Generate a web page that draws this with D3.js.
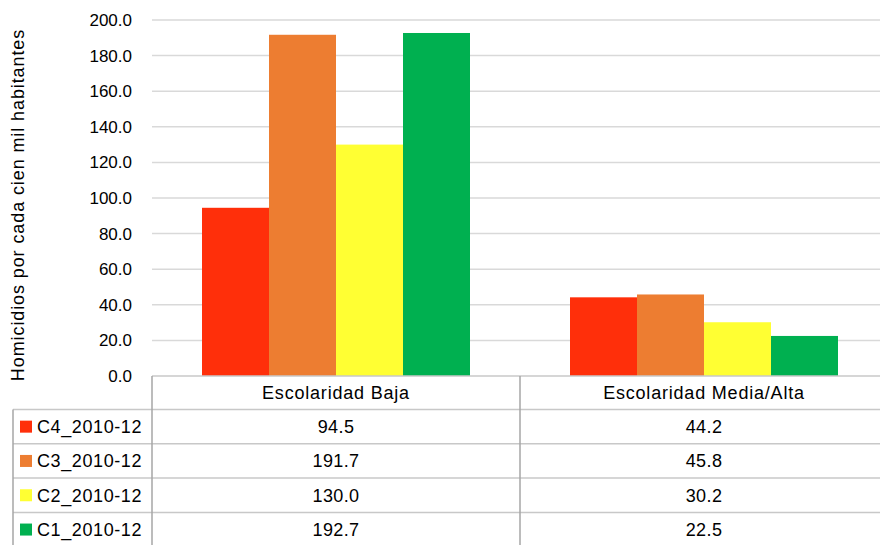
<!DOCTYPE html>
<html>
<head>
<meta charset="utf-8">
<title>Homicidios por escolaridad</title>
<script src="https://cdn.jsdelivr.net/npm/d3@7"></script>
<style>
  html, body { margin: 0; padding: 0; background: #fff; }
  svg { display: block; font-family: "Liberation Sans", Arial, sans-serif; }
</style>
</head>
<body>
<svg width="880" height="545"></svg>
<script>
// datos
var categories = ["Escolaridad Baja", "Escolaridad Media/Alta"];
var seriesNames = ["C4_2010-12", "C3_2010-12", "C2_2010-12", "C1_2010-12"];
var seriesColors = ["#ff2f0a", "#ed7d31", "#ffff33", "#00b050"];
var c4 = [94.5, 44.2];
var c3 = [191.7, 45.8];
var c2 = [130.0, 30.2];
var c1 = [192.7, 22.5];
var yTicks = [0, 20, 40, 60, 80, 100, 120, 140, 160, 180, 200];
var yTitle = "Homicidios por cada cien mil habitantes";

var values = [c4, c3, c2, c1];

var svg = d3.select("svg");
var plotLeft = 152, plotRight = 888, plotTop = 20, base = 376;
var rowH = 34.3, headH = 33.5, legLeft = 13;

var x0 = d3.scaleBand().domain(categories).range([plotLeft, plotRight]).paddingInner(0).paddingOuter(0);
var x1 = d3.scaleBand().domain(seriesNames).range([50, x0.bandwidth() - 50]).padding(0);
var y = d3.scaleLinear().domain([0, 200]).range([base, plotTop]);

// grid lines
svg.append("g").selectAll("line")
  .data(yTicks.filter(function (d) { return d > 0; }))
  .enter().append("line")
  .attr("x1", plotLeft).attr("x2", plotRight)
  .attr("y1", function (d) { return y(d); })
  .attr("y2", function (d) { return y(d); })
  .attr("stroke", "#d9d9d9").attr("stroke-width", 1.5);

// tick labels
svg.append("g").selectAll("text")
  .data(yTicks)
  .enter().append("text")
  .attr("x", 132)
  .attr("y", function (d) { return y(d); })
  .attr("dy", "0.35em")
  .attr("text-anchor", "end")
  .attr("font-size", 17)
  .attr("fill", "#000")
  .text(function (d) { return d3.format(".1f")(d); });

// bars
var groups = svg.append("g").selectAll("g")
  .data(categories)
  .enter().append("g")
  .attr("transform", function (d) { return "translate(" + x0(d) + ",0)"; });

groups.selectAll("rect")
  .data(function (d, i) {
    return seriesNames.map(function (s, k) { return { s: s, v: values[k][i], c: seriesColors[k] }; });
  })
  .enter().append("rect")
  .attr("x", function (d) { return x1(d.s); })
  .attr("width", x1.bandwidth())
  .attr("y", function (d) { return y(d.v); })
  .attr("height", function (d) { return base - y(d.v); })
  .attr("fill", function (d) { return d.c; });

// y axis title
svg.append("text")
  .attr("transform", "translate(18,205) rotate(-90)")
  .attr("text-anchor", "middle")
  .attr("dy", "0.35em")
  .attr("font-size", 18)
  .attr("letter-spacing", 0.9)
  .text(yTitle);

// data table
var tbl = svg.append("g");
var tableBottom = base + headH + rowH * seriesNames.length;
var hStroke = "#c8c8c8", vStroke = "#a6a6a6";

// top line
tbl.append("line").attr("x1", plotLeft).attr("x2", plotRight)
  .attr("y1", base).attr("y2", base).attr("stroke", hStroke).attr("stroke-width", 1.5);
// row lines
tbl.selectAll("line.row")
  .data(seriesNames)
  .enter().append("line").attr("class", "row")
  .attr("x1", legLeft).attr("x2", plotRight)
  .attr("y1", function (d, i) { return base + headH + i * rowH; })
  .attr("y2", function (d, i) { return base + headH + i * rowH; })
  .attr("stroke", hStroke).attr("stroke-width", 1.5);
// bottom line
tbl.append("line").attr("x1", legLeft).attr("x2", plotRight)
  .attr("y1", tableBottom).attr("y2", tableBottom).attr("stroke", hStroke).attr("stroke-width", 1.5);
// vertical lines
tbl.append("line").attr("x1", legLeft).attr("x2", legLeft)
  .attr("y1", base + headH).attr("y2", tableBottom).attr("stroke", vStroke).attr("stroke-width", 1.5);
tbl.append("line").attr("x1", plotLeft).attr("x2", plotLeft)
  .attr("y1", base).attr("y2", tableBottom).attr("stroke", vStroke).attr("stroke-width", 1.5);
tbl.append("line").attr("x1", x0(categories[1])).attr("x2", x0(categories[1]))
  .attr("y1", base).attr("y2", tableBottom).attr("stroke", vStroke).attr("stroke-width", 1.5);

// header text
tbl.selectAll("text.head")
  .data(categories)
  .enter().append("text").attr("class", "head")
  .attr("x", function (d) { return x0(d) + x0.bandwidth() / 2; })
  .attr("y", base + headH / 2)
  .attr("dy", "0.35em")
  .attr("text-anchor", "middle")
  .attr("font-size", 18)
  .attr("letter-spacing", 0.8)
  .text(function (d) { return d; });

// legend cells
var rows = tbl.selectAll("g.r")
  .data(seriesNames)
  .enter().append("g").attr("class", "r")
  .attr("transform", function (d, i) { return "translate(0," + (base + headH + i * rowH) + ")"; });

rows.append("rect")
  .attr("x", 20).attr("y", rowH / 2 - 6)
  .attr("width", 12).attr("height", 12)
  .attr("fill", function (d, i) { return seriesColors[i]; });

rows.append("text")
  .attr("x", 37).attr("y", rowH / 2).attr("dy", "0.35em")
  .attr("font-size", 18)
  .attr("letter-spacing", 0.6)
  .text(function (d) { return d; });

rows.selectAll("text.v")
  .data(function (d, i) { return values[i]; })
  .enter().append("text").attr("class", "v")
  .attr("x", function (d, j) { return x0(categories[j]) + x0.bandwidth() / 2; })
  .attr("y", rowH / 2).attr("dy", "0.35em")
  .attr("text-anchor", "middle")
  .attr("font-size", 18)
  .attr("letter-spacing", 0.4)
  .text(function (d) { return d3.format(".1f")(d); });
</script>
</body>
</html>
